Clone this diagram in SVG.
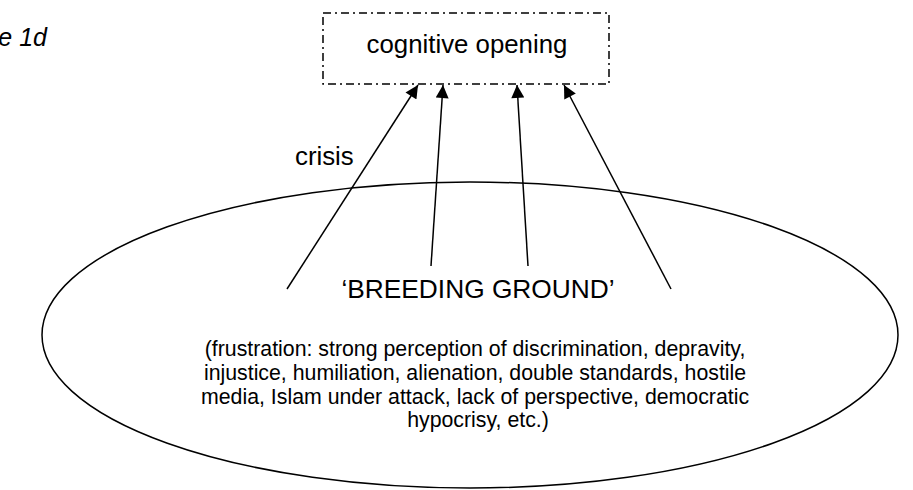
<svg xmlns="http://www.w3.org/2000/svg" width="913" height="490" viewBox="0 0 913 490">
  <style>
    text { font-family: "Liberation Sans", Arial, sans-serif; fill: #000; }
    .big { font-size: 25.8px; }
    .small { font-size: 21.3px; }
    .caption { font-size: 25px; font-style: italic; }
    .box { fill: none; stroke: #000; stroke-width: 1.5; stroke-dasharray: 8 4 2 4; }
    .edge { fill: none; stroke: #000; stroke-width: 1.5; marker-end: url(#head); }
    .oval { fill: none; stroke: #000; stroke-width: 1.5; }
  </style>
  <defs>
    <marker id="head" viewBox="0 0 10 10" refX="10" refY="5" markerUnits="userSpaceOnUse" markerWidth="14" markerHeight="13" orient="auto">
      <path d="M0,0 L10,5 L0,10 z" fill="#000"/>
    </marker>
  </defs>

  <!-- figure caption, partly outside the frame -->
  <text class="caption" x="47" y="46" text-anchor="end">e 1d</text>

  <!-- target node -->
  <g id="cognitive-opening">
    <rect class="box" x="323" y="13" width="286" height="71"/>
    <text class="big" x="467" y="53" text-anchor="middle">cognitive opening</text>
  </g>

  <!-- source node -->
  <g id="breeding-ground">
    <ellipse class="oval" cx="470" cy="335" rx="428" ry="153"/>
    <text class="big" x="478" y="298" text-anchor="middle" style="font-size:26.3px">‘BREEDING GROUND’</text>
    <text class="small" text-anchor="middle">
      <tspan x="478" y="356">(frustration: strong perception of discrimination, depravity,</tspan>
      <tspan x="478" y="380">injustice, humiliation, alienation, double standards, hostile</tspan>
      <tspan x="478" y="404">media, Islam under attack, lack of perspective, democratic</tspan>
      <tspan x="478" y="427">hypocrisy, etc.)</tspan>
    </text>
  </g>

  <!-- connectors -->
  <g id="connectors">
    <line class="edge" x1="287" y1="289" x2="418" y2="85"/>
    <line class="edge" x1="431" y1="266" x2="443" y2="85"/>
    <line class="edge" x1="528" y1="266" x2="517" y2="85"/>
    <line class="edge" x1="671" y1="289" x2="564" y2="85"/>
    <text class="big" x="295" y="165">crisis</text>
  </g>
</svg>
